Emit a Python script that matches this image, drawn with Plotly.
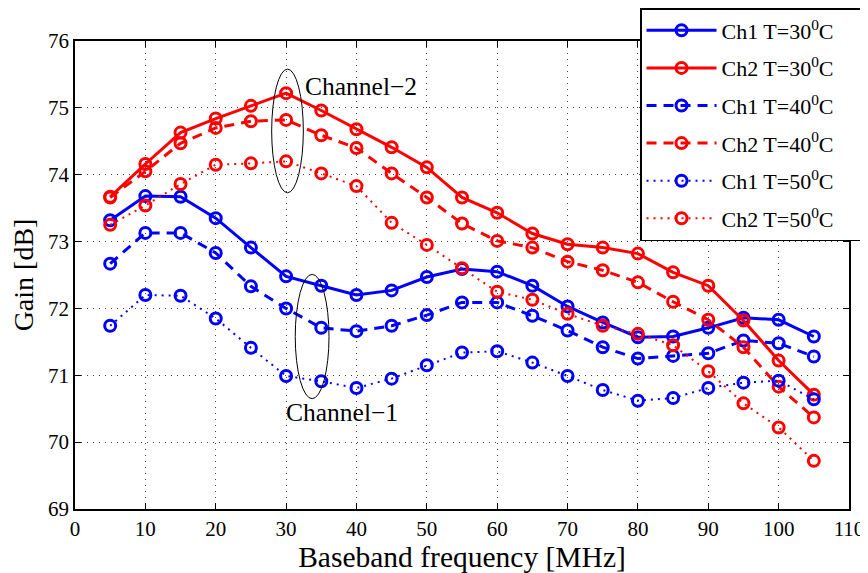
import plotly.graph_objects as go

freq = [5, 10, 15, 20, 25, 30, 35, 40, 45, 50, 55, 60, 65, 70, 75, 80, 85, 90, 95, 100, 105]

ch1_t30 = [73.32, 73.68, 73.67, 73.35, 72.91, 72.48, 72.34, 72.20, 72.27,
           72.47, 72.59, 72.55, 72.34, 72.03, 71.79, 71.57, 71.58, 71.71, 71.86, 71.83, 71.58]
ch2_t30 = [73.67, 74.16, 74.63, 74.84, 75.03, 75.22, 74.96, 74.68, 74.41,
           74.11, 73.66, 73.43, 73.12, 72.96, 72.91, 72.82, 72.54, 72.34, 71.82, 71.22, 70.71]
ch1_t40 = [72.67, 73.13, 73.13, 72.83, 72.33, 72.00, 71.71, 71.66, 71.74,
           71.90, 72.09, 72.09, 71.89, 71.67, 71.42, 71.25, 71.29, 71.33, 71.52, 71.48, 71.28]
ch2_t40 = [73.66, 74.05, 74.47, 74.70, 74.80, 74.82, 74.59, 74.40, 74.02,
           73.66, 73.27, 73.01, 72.91, 72.70, 72.57, 72.39, 72.10, 71.83, 71.42, 70.83, 70.37]
ch1_t50 = [71.74, 72.20, 72.19, 71.85, 71.41, 70.99, 70.91, 70.81, 70.95,
           71.15, 71.34, 71.36, 71.19, 70.99, 70.78, 70.62, 70.66, 70.81, 70.89, 70.92, 70.64]
ch2_t50 = [73.25, 73.54, 73.86, 74.15, 74.17, 74.20, 74.02, 73.83, 73.28,
           72.95, 72.60, 72.25, 72.13, 71.92, 71.74, 71.62, 71.45, 71.06, 70.58, 70.22, 69.72]

series_names = ["Ch1 T=30<sup>0</sup>C", "Ch2 T=30<sup>0</sup>C",
                "Ch1 T=40<sup>0</sup>C", "Ch2 T=40<sup>0</sup>C",
                "Ch1 T=50<sup>0</sup>C", "Ch2 T=50<sup>0</sup>C"]
series_values = [ch1_t30, ch2_t30, ch1_t40, ch2_t40, ch1_t50, ch2_t50]
series_colors = ["#0000FF", "#FF0000", "#0000FF", "#FF0000", "#0000FF", "#FF0000"]
series_dash = ["solid", "solid", "10px,7px", "10px,7px", "2px,5px", "2px,5px"]
series_width = [3, 3, 3, 3, 2, 2]

FONT = "Liberation Serif, Times New Roman, serif"
PAD = "\u00a0\u00a0\u00a0\u00a0"

fig = go.Figure()
for i, (name, vals) in enumerate(zip(series_names, series_values)):
    fig.add_trace(go.Scatter(
        x=freq, y=vals, name=name + PAD, mode="lines+markers",
        legendgroup=f"g{i}",
        line=dict(color=series_colors[i], width=series_width[i], dash=series_dash[i]),
        marker=dict(symbol="circle-open", size=11, color=series_colors[i],
                    line=dict(width=3, color=series_colors[i])),
    ))

# ellipses
fig.add_shape(type="circle", xref="x", yref="y", x0=27.95, x1=32.45, y0=73.73, y1=75.58,
              line=dict(color="black", width=1))
fig.add_shape(type="circle", xref="x", yref="y", x0=31.3, x1=36.1, y0=70.65, y1=72.51,
              line=dict(color="black", width=1))
fig.add_annotation(x=32.4, y=75.32, xref="x", yref="y", text="Channel\u22122",
                   showarrow=False, xanchor="left", yanchor="middle",
                   font=dict(family=FONT, size=25.5, color="black"))
fig.add_annotation(x=29.7, y=70.44, xref="x", yref="y", text="Channel\u22121",
                   showarrow=False, xanchor="left", yanchor="middle",
                   font=dict(family=FONT, size=25.5, color="black"))

axis_common = dict(
    showline=True, linecolor="black", linewidth=1.5, mirror="ticks",
    ticks="inside", ticklen=6, tickcolor="black", tickwidth=1,
    showgrid=True, gridcolor="#444", gridwidth=1, griddash="1px,5px",
    zeroline=False, tickfont=dict(family=FONT, size=21, color="black"),
)

fig.update_xaxes(range=[0, 110], dtick=10, tick0=0,
                 title=dict(text="Baseband frequency [MHz]", standoff=2,
                            font=dict(family=FONT, size=29.5, color="black")),
                 **axis_common)
fig.update_yaxes(range=[69, 76], dtick=1, tick0=69,
                 title=dict(text="Gain [dB]", standoff=8,
                            font=dict(family=FONT, size=28, color="black")),
                 **axis_common)

# the page body adds an 8px offset; the figure is sized to compensate
fig.update_layout(
    width=860, height=565,
    margin=dict(l=67, r=19, t=33, b=64, autoexpand=False),
    paper_bgcolor="white", plot_bgcolor="white",
    font=dict(family=FONT, color="black"),
    legend=dict(x=0.73, y=1.0705, xanchor="left", yanchor="top",
                bgcolor="white", bordercolor="black", borderwidth=1.5,
                font=dict(family=FONT, size=22, color="black"),
                itemwidth=70, tracegroupgap=6),
    showlegend=True,
)

fig.write_html("out.html")
